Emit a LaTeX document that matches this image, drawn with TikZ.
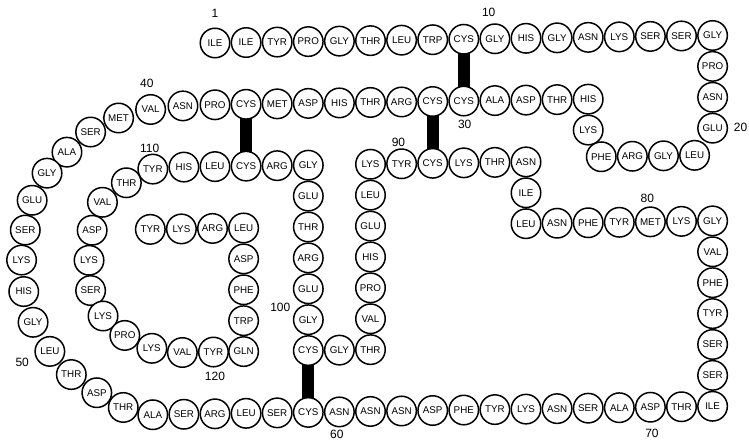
\documentclass[tikz,border=0pt]{standalone}
\usepackage{fontspec}
\setmainfont{Liberation Sans}
\usetikzlibrary{backgrounds}
\tikzset{
  res/.style={circle, draw=black, line width=1.5pt, fill=white, minimum size=29.5pt, inner sep=0pt,
    font=\fontsize{9.8}{9.8}\selectfont},
  ssbond/.style={line width=12pt, draw=black},
  num/.style={font=\fontsize{12}{12}\selectfont, inner sep=0pt}
}
\begin{document}
\begin{tikzpicture}
\useasboundingbox (0pt,0pt) rectangle (749pt,-441pt);
\begin{scope}[shift={(215pt,-43pt)}, x={(31.1pt,0.47pt)}, y={(0pt,-30.9pt)}]
\foreach \n/\i/\j/\t in {
1/0/0/ILE, 2/1/0/ILE, 3/2/0/TYR, 4/3/0/PRO, 5/4/0/GLY, 6/5/0/THR, 7/6/0/LEU, 8/7/0/TRP,
9/8/0/CYS, 10/9/0/GLY, 11/10/0/HIS, 12/11/0/GLY, 13/12/0/ASN, 14/13/0/LYS, 15/14/0/SER,
16/15/0/SER, 17/16/0/GLY, 18/16/1/PRO, 19/16/2/ASN, 20/16/3/GLU,
21/15.42/3.87/LEU, 22/14.42/3.87/GLY, 23/13.42/3.87/ARG, 24/12.42/3.87/PHE,
25/12/3/LYS, 26/12/2/HIS, 27/11/2/THR, 28/10/2/ASP, 29/9/2/ALA, 30/8/2/CYS, 31/7/2/CYS,
32/6/2/ARG, 33/5/2/THR, 34/4/2/HIS, 35/3/2/ASP, 36/2/2/MET, 37/1/2/CYS, 38/0/2/PRO,
39/-1.03/2.02/ASN, 40/-2.07/2.12/VAL, 41/-3.1/2.38/MET, 42/-4/2.82/SER, 43/-4.76/3.46/ALA,
44/-5.4/4.13/GLY, 45/-5.88/5/GLU, 46/-6.1/5.96/SER, 47/-6.22/6.93/LYS, 48/-6.15/7.95/HIS,
49/-5.85/8.95/GLY, 50/-5.31/9.9/LEU, 51/-4.62/10.66/THR, 52/-3.8/11.26/ASP,
53/-2.95/11.75/THR, 54/-2/12/ALA, 55/-1/12/SER, 56/0/12/ARG,
57/1/12/LEU, 58/2/12/SER, 59/3/12/CYS, 60/4/12/ASN, 61/5/12/ASN, 62/6/12/ASN,
63/7/12/ASP, 64/8/12/PHE, 65/9/12/TYR, 66/10/12/LYS, 67/11/12/ASN, 68/12/12/SER,
69/13/12/ALA, 70/14/12/ASP, 71/15/12/THR, 72/16/12/ILE,
73/16/11/SER, 74/16/10/SER, 75/16/9/TYR, 76/16/8/PHE, 77/16/7/VAL, 78/16/6/GLY,
79/15/6/LYS, 80/14/6/MET, 81/13/6/TYR, 82/12/6/PHE, 83/11/6/ASN, 84/10/6/LEU,
85/10/5/ILE, 86/10/4/ASN, 87/9/4/THR, 88/8/4/LYS, 89/7/4/CYS, 90/6/4/TYR, 91/5/4/LYS,
92/5/5/LEU, 93/5/6/GLU, 94/5/7/HIS, 95/5/8/PRO, 96/5/9/VAL, 97/5/10/THR,
98/4/10/GLY, 99/3/10/CYS, 100/3/9/GLY, 101/3/8/GLU, 102/3/7/ARG, 103/3/6/THR,
104/3/5/GLU, 105/3/4/GLY, 106/2/4/ARG, 107/1/4/CYS, 108/0/4/LEU, 109/-1/4/HIS,
110/-2/4.05/TYR, 111/-2.85/4.48/THR, 112/-3.62/5.1/VAL, 113/-3.95/6/ASP,
114/-4.05/6.97/LYS, 115/-4/7.95/SER, 116/-3.6/8.78/LYS, 117/-2.9/9.42/PRO,
118/-2.03/9.85/LYS, 119/-1.05/10/VAL, 120/-0.05/10/TYR, 121/0.92/10/GLN,
122/0.92/9/TRP, 123/0.92/8/PHE, 124/0.92/7/ASP, 125/0.92/6/LEU,
126/-0.08/6/ARG, 127/-1.08/6/LYS, 128/-2.08/6/TYR}
  \node[res] (r\n) at (\i,\j) {\t};
\begin{pgfonlayer}{background}
  \draw[ssbond] (r9.center) -- (r30.center);
  \draw[ssbond] (r31.center) -- (r89.center);
  \draw[ssbond] (r37.center) -- (r107.center);
  \draw[ssbond] (r59.center) -- (r99.center);
\end{pgfonlayer}
\node[num] (n1) at (0,-0.95) {1};
\node[num] (n10) at (8.8,-0.85) {10};
\node[num] (n20) at (16.9,3) {20};
\node[num] (n30) at (8.03,2.74) {30};
\node[num] (n40) at (-2.19,1.26) {40};
\node[num] (n50) at (-6.2,10.23) {50};
\node[num] (n60) at (3.92,12.72) {60};
\node[num] (n70) at (14.05,12.85) {70};
\node[num] (n80) at (13.9,5.23) {80};
\node[num] (n90) at (5.9,3.29) {90};
\node[num] (n100) at (2.1,8.6) {100};
\node[num] (n110) at (-2.1,3.37) {110};
\node[num] (n120) at (0,10.8) {120};
\end{scope}
\end{tikzpicture}
\end{document}
